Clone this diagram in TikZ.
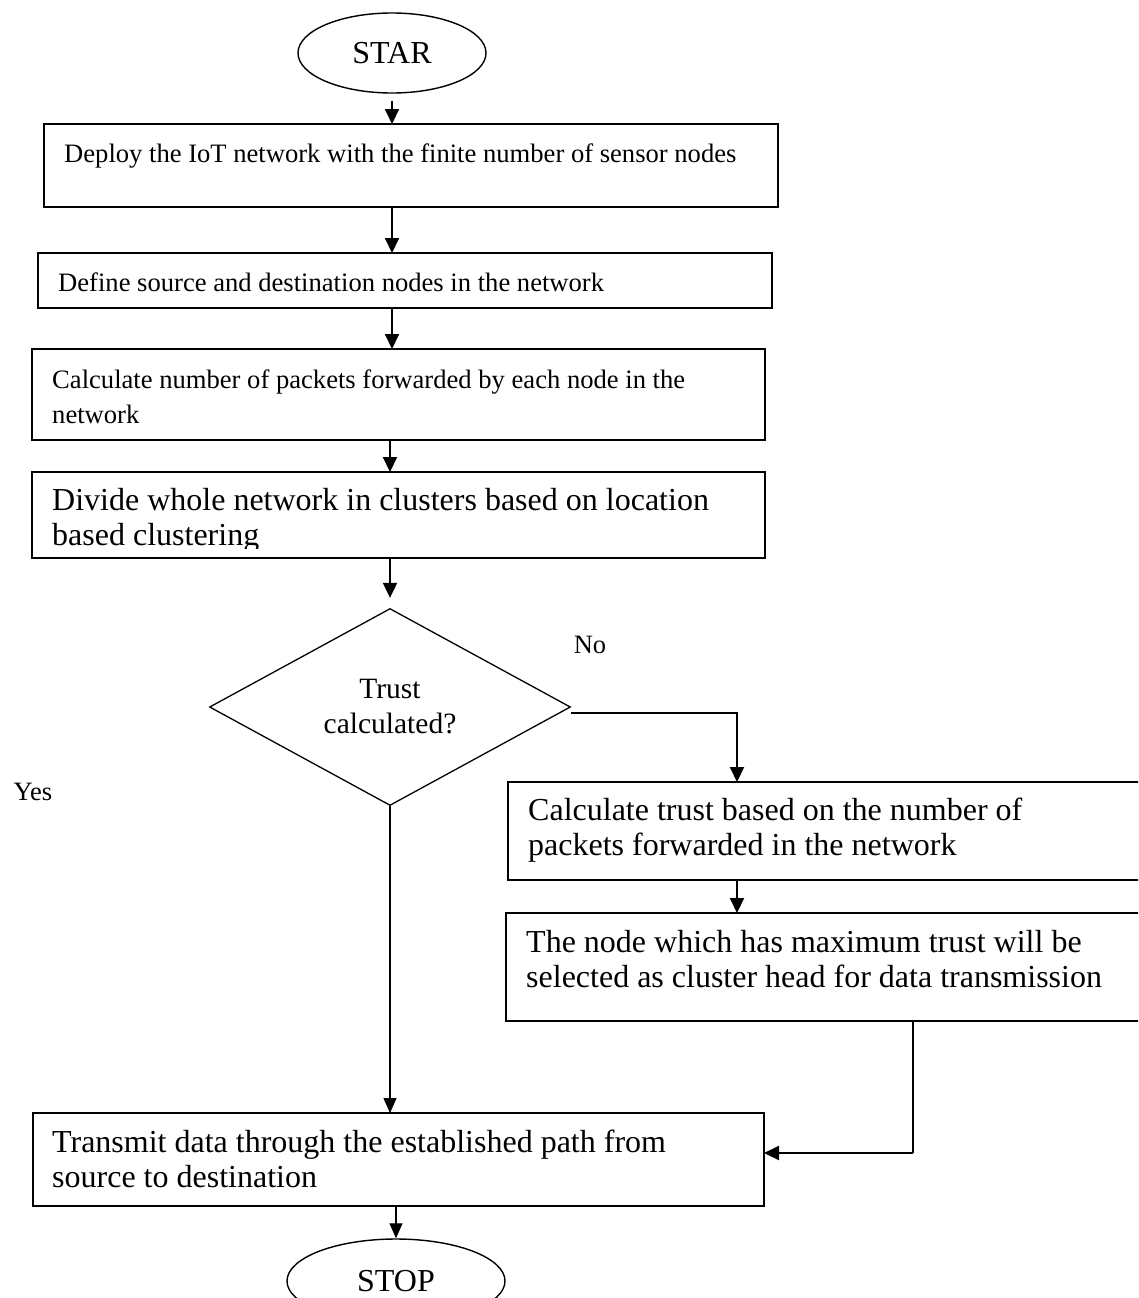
\documentclass[tikz,border=0pt]{standalone}
\usepackage{fontspec}
\setmainfont{Liberation Serif}
\usetikzlibrary{arrows.meta,shapes.geometric}
\tikzset{
  box/.style={draw, rectangle, line width=1.8pt, inner sep=0pt, outer sep=0pt},
  term/.style={draw, ellipse, line width=1.4pt, inner sep=0pt, font=\fontsize{32}{36}\selectfont},
  dec/.style={draw, diamond, line width=1.3pt, inner sep=0pt, align=center, font=\fontsize{29.5}{35}\selectfont},
  small/.style={anchor=base west, inner sep=0pt, font=\fontsize{26.6}{32}\selectfont},
  big/.style={anchor=base west, inner sep=0pt, font=\fontsize{32}{36}\selectfont},
  lbl/.style={inner sep=0pt, font=\fontsize{26.5}{30}\selectfont},
  arr/.style={-{Triangle[length=15pt,width=14pt]}, line width=2pt},
  arrthin/.style={-{Triangle[length=15pt,width=13pt]}, line width=1.1pt},
  plain/.style={line width=1.1pt}
}
\begin{document}
\begin{tikzpicture}[x=1pt,y=-1pt]
\useasboundingbox (0,0) rectangle (1138,1298);
\begin{scope}
\clip (0,0) rectangle (1138,1298);
% terminals
\node[term, minimum width=188pt, minimum height=80pt] (star) at (392,53) {STAR};
\node[term, minimum width=218pt, minimum height=84pt] (stop) at (396,1281) {STOP};

% boxes
\node[box, minimum width=734pt, minimum height=83pt] (b1) at (411,165.5) {};
\node[small] (t1) at (64,162) {Deploy the IoT network with the finite number of sensor nodes};

\node[box, minimum width=734pt, minimum height=55pt] (b2) at (405,280.5) {};
\node[small] (t2) at (58,291) {Define source and destination nodes in the network};

\node[box, minimum width=733pt, minimum height=91pt] (b3) at (398.5,394.5) {};
\node[small] (t3a) at (52,388) {Calculate number of packets forwarded by each node in the};
\node[small] (t3b) at (52,423) {network};

\node[box, minimum width=733pt, minimum height=86pt] (b4) at (398.5,515) {};
\node[big] (t4a) at (52,510) {Divide whole network in clusters based on location};
\begin{scope}
\clip (0,0) rectangle (1138,548);
\node[big] (t4b) at (52,545) {based clustering};
\end{scope}

\node[dec, minimum width=361pt, minimum height=197pt] (d) at (390,707) {Trust\\calculated?};

\node[box, minimum width=637pt, minimum height=98pt] (b5) at (826.5,831) {};
\node[big] (t5a) at (528,820) {Calculate trust based on the number of};
\node[big] (t5b) at (528,855) {packets forwarded in the network};

\node[box, minimum width=639pt, minimum height=108pt] (b6) at (825.5,967) {};
\node[big] (t6a) at (526,952) {The node which has maximum trust will be};
\node[big] (t6b) at (526,987) {selected as cluster head for data transmission};

\node[box, minimum width=731pt, minimum height=93pt] (b7) at (398.5,1159.5) {};
\node[big] (t7a) at (52,1152) {Transmit data through the established path from};
\node[big] (t7b) at (52,1187) {source to destination};

% labels
\node[lbl] (no) at (590,645) {No};
\node[lbl] (yes) at (33,792) {Yes};

% connectors
\draw[arr, shorten <=7pt] (star.south) -- (star.south |- b1.north);
\draw[arr] (b1.south -| star.south) -- (b2.north -| star.south);
\draw[arr] (b2.south -| star.south) -- (b3.north -| star.south);
\draw[arr] (b3.south -| d.north) -- (b4.north -| d.north);
\draw[arr, shorten >=10pt] (b4.south -| d.north) -- (d.north);

\coordinate (nocorner) at (737,713);
\draw[arr] (d.east |- nocorner) -- (nocorner) -- (nocorner |- b5.north);
\draw[arr] (b5.south -| nocorner) -- (b6.north -| nocorner);

\draw[arrthin] (d.south) -- (d.south |- b7.north);

\coordinate (cj) at (913,1153);
\draw[plain] (b6.south -| cj) -- (cj);
\draw[arr] (cj) -- (cj -| b7.east);

\draw[arrthin] (b7.south -| stop.north) -- (stop.north);
\end{scope}
\end{tikzpicture}
\end{document}
